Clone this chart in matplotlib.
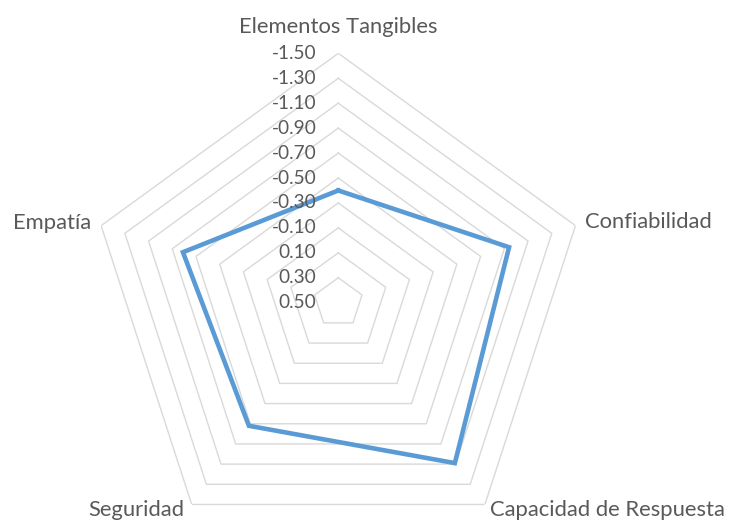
import numpy as np
import matplotlib
matplotlib.use("Agg")
import matplotlib.pyplot as plt
import matplotlib.transforms as mtransforms

# Radar data (Excel-style chart with reversed radial axis)
categories = ["Elementos Tangibles", "Confiabilidad", "Capacidad de Respuesta", "Seguridad", "Empatía"]
values = [-0.40, -0.94, -1.09, -0.72, -0.81]
levels = [0.30, 0.10, -0.10, -0.30, -0.50, -0.70, -0.90, -1.10, -1.30, -1.50]
tick_values = [-1.50, -1.30, -1.10, -0.90, -0.70, -0.50, -0.30, -0.10, 0.10, 0.30, 0.50]
tick_labels = ["-1.50", "-1.30", "-1.10", "-0.90", "-0.70", "-0.50", "-0.30", "-0.10", "0.10", "0.30", "0.50"]

plt.rcParams["font.family"] = ["Lato", "DejaVu Sans"]
text_color = "#595959"

fig = plt.figure(figsize=(7.29, 5.21), dpi=100)
W, H = 729, 521
cx, cy, rad = 338.3, 521 - 302.7, 249.4
ax = fig.add_axes([(cx - rad) / W, (cy - rad) / H, 2 * rad / W, 2 * rad / H], projection="polar")

n = len(categories)
angles = np.pi / 2 - 2 * np.pi * np.arange(n) / n
closed = np.append(angles, angles[0])

ax.set_ylim(0.50, -1.50)
ax.grid(False)
ax.set_xticks([])
ax.set_yticks([])
ax.spines["polar"].set_visible(False)
ax.patch.set_visible(False)

# pentagon gridlines
for lv in levels:
    ax.plot(closed, [lv] * (n + 1), color="#d9d9d9", lw=1.0, zorder=1)

# data line
ax.plot(closed, values + [values[0]], color="#5b9bd5", lw=3.3, zorder=3,
        solid_joinstyle="miter")

# radial tick labels, right-aligned left of the top axis
off = mtransforms.offset_copy(ax.transData, fig=fig, x=-22, y=0, units="dots")
for tv, tl in zip(tick_values, tick_labels):
    ax.text(np.pi / 2, tv, tl, transform=off, ha="right", va="center",
            fontsize=13.7, color=text_color, zorder=4)

# category labels
label_pos = [
    (0, 26.6, "center", "center"),
    (10, 3.6, "left", "center"),
    (5, -5.5, "left", "center"),
    (-7, -5.5, "right", "center"),
    (-10, 2.6, "right", "center"),
]
for ang, cat, (dx, dy, ha, va) in zip(angles, categories, label_pos):
    t = mtransforms.offset_copy(ax.transData, fig=fig, x=dx, y=dy, units="dots")
    ax.text(ang, -1.50, cat, transform=t, ha=ha, va=va, fontsize=15.8,
            color=text_color, clip_on=False)

fig.savefig("out.png", dpi=100)
